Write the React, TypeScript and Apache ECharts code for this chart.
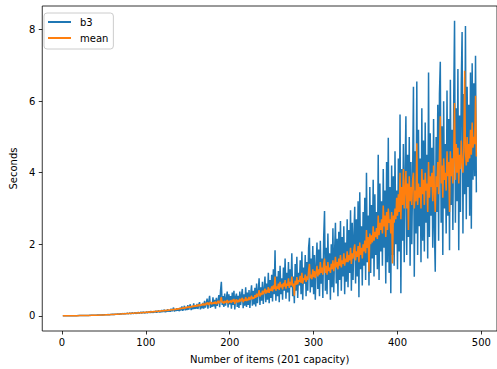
import React, { useEffect, useRef } from "react";
import * as echarts from "echarts";

// runs cover items 1..494, one run per item count
const FIRST_ITEM = 1;
const ITEM_STEP = 1;

const xTicks = [0, 100, 200, 300, 400, 500];
const yTicks = [0, 2, 4, 6, 8];

// b3 timings (seconds), items 1..494
const b3 = [
  0.000, 0.000, 0.000, 0.001, 0.001, 0.001, 0.001, 0.001, 0.002, 0.002,
  0.002, 0.002, 0.003, 0.003, 0.003, 0.004, 0.004, 0.004, 0.005, 0.005,
  0.005, 0.006, 0.006, 0.007, 0.007, 0.008, 0.008, 0.009, 0.009, 0.010,
  0.011, 0.011, 0.012, 0.013, 0.013, 0.014, 0.015, 0.016, 0.017, 0.018,
  0.018, 0.020, 0.019, 0.022, 0.021, 0.024, 0.023, 0.026, 0.025, 0.028,
  0.027, 0.031, 0.029, 0.033, 0.030, 0.036, 0.032, 0.038, 0.034, 0.041,
  0.036, 0.044, 0.038, 0.047, 0.040, 0.052, 0.042, 0.049, 0.045, 0.058,
  0.047, 0.055, 0.062, 0.050, 0.068, 0.053, 0.060, 0.072, 0.055, 0.066,
  0.078, 0.058, 0.070, 0.085, 0.060, 0.075, 0.092, 0.064, 0.080, 0.068,
  0.098, 0.070, 0.085, 0.105, 0.072, 0.090, 0.110, 0.075, 0.095, 0.080,
  0.115, 0.078, 0.100, 0.122, 0.082, 0.130, 0.090, 0.108, 0.086, 0.125,
  0.095, 0.140, 0.090, 0.118, 0.150, 0.095, 0.128, 0.100, 0.160, 0.105,
  0.135, 0.170, 0.102, 0.145, 0.110, 0.185, 0.120, 0.150, 0.115, 0.200,
  0.125, 0.165, 0.230, 0.120, 0.175, 0.135, 0.210, 0.140, 0.190, 0.130,
  0.225, 0.150, 0.260, 0.140, 0.200, 0.280, 0.150, 0.240, 0.160, 0.300,
  0.170, 0.250, 0.320, 0.160, 0.270, 0.180, 0.350, 0.190, 0.260, 0.200,
  0.330, 0.190, 0.300, 0.380, 0.180, 0.290, 0.210, 0.360, 0.200, 0.420,
  0.230, 0.340, 0.480, 0.200, 0.400, 0.560, 0.220, 0.380, 0.250, 0.520,
  0.260, 0.450, 0.200, 0.500, 0.280, 0.420, 0.580, 0.240, 0.700, 0.950,
  0.300, 0.550, 0.250, 0.620, 0.280, 0.480, 0.680, 0.230, 0.600, 0.320,
  0.550, 0.200, 0.650, 0.300, 0.700, 0.180, 0.520, 0.620, 0.250, 0.560,
  0.220, 0.680, 0.300, 0.580, 0.750, 0.210, 0.600, 0.280, 0.800, 0.250,
  0.650, 0.300, 0.720, 0.220, 0.600, 0.850, 0.280, 0.700, 0.320, 0.780,
  0.260, 0.900, 0.350, 0.680, 1.050, 0.300, 0.800, 0.420, 0.950, 0.330,
  0.750, 1.100, 0.380, 0.900, 0.450, 1.200, 0.350, 1.000, 0.500, 1.150,
  0.400, 1.300, 0.600, 1.830, 0.420, 1.100, 0.550, 1.250, 0.380, 1.400,
  0.600, 1.050, 0.450, 1.350, 0.700, 1.600, 0.480, 1.200, 0.650, 1.500,
  0.400, 1.300, 0.800, 1.750, 0.550, 1.100, 0.350, 1.450, 0.700, 1.650,
  0.500, 1.200, 0.850, 1.550, 0.600, 1.800, 0.450, 1.350, 0.900, 1.700,
  0.550, 1.500, 0.700, 1.900, 2.180, 0.650, 1.600, 0.800, 1.950, 0.600,
  1.700, 0.450, 1.400, 2.050, 0.750, 1.850, 0.550, 2.100, 0.900, 1.600,
  0.500, 2.200, 2.930, 0.700, 1.900, 0.600, 2.300, 1.000, 1.750, 0.450,
  2.000, 0.800, 2.450, 0.650, 1.800, 2.600, 0.900, 2.150, 0.550, 2.350,
  1.000, 2.650, 0.700, 2.200, 1.100, 2.500, 0.600, 2.050, 0.950, 2.700,
  0.800, 2.400, 1.200, 2.950, 0.700, 2.600, 1.000, 2.250, 3.050, 0.900,
  2.700, 1.100, 3.200, 0.520, 3.450, 1.300, 2.500, 0.850, 2.900, 1.400,
  3.300, 1.000, 4.000, 1.500, 2.800, 0.850, 3.600, 1.200, 3.100, 1.600,
  3.800, 1.100, 3.400, 1.700, 2.900, 1.300, 4.500, 1.000, 3.700, 1.800,
  3.200, 1.400, 4.100, 1.900, 3.500, 0.900, 4.300, 1.500, 4.980, 1.200,
  3.600, 0.630, 4.200, 1.700, 3.900, 1.400, 4.600, 2.000, 3.500, 1.300,
  4.400, 1.800, 5.630, 0.630, 4.100, 2.100, 4.800, 1.500, 3.900, 5.580,
  1.700, 4.500, 2.200, 5.000, 1.400, 4.300, 2.000, 3.800, 6.400, 1.090,
  4.600, 2.300, 6.550, 1.700, 5.200, 2.500, 4.400, 1.500, 5.800, 2.100,
  4.900, 1.800, 5.400, 2.600, 4.500, 1.600, 6.800, 2.200, 5.100, 2.800,
  4.700, 1.900, 5.500, 2.400, 1.230, 5.000, 2.900, 5.900, 2.100, 6.200,
  7.100, 2.600, 5.300, 1.700, 6.000, 3.000, 4.800, 2.300, 6.300, 2.800,
  5.500, 1.830, 6.600, 3.100, 5.200, 2.400, 6.000, 8.250, 2.600, 5.800,
  3.200, 6.900, 1.830, 5.600, 2.900, 6.500, 7.930, 2.300, 6.200, 3.400,
  8.100, 2.700, 6.400, 3.600, 5.900, 2.800, 6.800, 2.430, 7.060, 3.800,
  6.500, 3.900, 7.270, 3.450,
];

// mean timings (seconds), items 1..494
const mean = [
  0.000, 0.000, 0.000, 0.000, 0.001, 0.001, 0.001, 0.001, 0.001, 0.002,
  0.002, 0.002, 0.002, 0.003, 0.003, 0.003, 0.003, 0.004, 0.004, 0.004,
  0.005, 0.005, 0.005, 0.006, 0.006, 0.007, 0.007, 0.008, 0.008, 0.009,
  0.009, 0.010, 0.010, 0.011, 0.012, 0.012, 0.013, 0.014, 0.014, 0.015,
  0.016, 0.017, 0.017, 0.018, 0.019, 0.020, 0.021, 0.022, 0.023, 0.024,
  0.025, 0.026, 0.027, 0.028, 0.029, 0.031, 0.032, 0.033, 0.034, 0.036,
  0.037, 0.038, 0.040, 0.041, 0.043, 0.044, 0.046, 0.047, 0.049, 0.051,
  0.052, 0.054, 0.056, 0.055, 0.059, 0.058, 0.062, 0.061, 0.065, 0.064,
  0.068, 0.066, 0.071, 0.070, 0.074, 0.072, 0.078, 0.075, 0.082, 0.078,
  0.085, 0.081, 0.088, 0.084, 0.092, 0.087, 0.096, 0.090, 0.100, 0.093,
  0.104, 0.097, 0.108, 0.100, 0.112, 0.104, 0.116, 0.108, 0.120, 0.112,
  0.125, 0.116, 0.130, 0.120, 0.128, 0.135, 0.124, 0.140, 0.130, 0.145,
  0.135, 0.150, 0.140, 0.156, 0.145, 0.162, 0.150, 0.168, 0.155, 0.175,
  0.160, 0.182, 0.166, 0.190, 0.172, 0.198, 0.178, 0.205, 0.185, 0.212,
  0.192, 0.220, 0.198, 0.228, 0.205, 0.236, 0.212, 0.245, 0.220, 0.254,
  0.228, 0.262, 0.235, 0.270, 0.240, 0.280, 0.250, 0.290, 0.258, 0.300,
  0.265, 0.310, 0.272, 0.320, 0.280, 0.300, 0.330, 0.290, 0.345, 0.300,
  0.310, 0.360, 0.320, 0.375, 0.300, 0.350, 0.390, 0.320, 0.370, 0.330,
  0.380, 0.340, 0.400, 0.330, 0.360, 0.420, 0.350, 0.380, 0.440, 0.520,
  0.360, 0.400, 0.340, 0.420, 0.370, 0.390, 0.440, 0.350, 0.410, 0.380,
  0.430, 0.360, 0.450, 0.390, 0.470, 0.330, 0.420, 0.460, 0.370, 0.440,
  0.380, 0.480, 0.400, 0.450, 0.500, 0.380, 0.460, 0.420, 0.520, 0.410,
  0.480, 0.430, 0.530, 0.440, 0.500, 0.560, 0.460, 0.520, 0.480, 0.580,
  0.500, 0.620, 0.530, 0.600, 0.720, 0.540, 0.640, 0.580, 0.700, 0.600,
  0.680, 0.760, 0.620, 0.720, 0.650, 0.800, 0.640, 0.760, 0.700, 0.820,
  0.680, 0.850, 0.740, 1.100, 0.700, 0.820, 0.760, 0.900, 0.720, 0.950,
  0.800, 0.880, 0.740, 0.920, 0.820, 1.000, 0.760, 0.900, 0.840, 1.050,
  0.780, 0.950, 0.850, 1.100, 0.820, 0.900, 0.560, 0.980, 0.860, 1.080,
  0.880, 1.000, 0.950, 1.120, 0.920, 1.200, 0.900, 1.050, 1.000, 1.150,
  0.950, 1.100, 1.000, 1.250, 1.450, 1.050, 1.150, 1.020, 1.300, 1.080,
  1.250, 1.050, 1.200, 1.400, 1.100, 1.300, 1.150, 1.500, 1.200, 1.350,
  1.150, 1.450, 1.600, 1.200, 1.400, 1.150, 1.500, 1.250, 1.350, 1.200,
  1.450, 1.300, 1.550, 1.250, 1.400, 1.650, 1.350, 1.500, 1.300, 1.600,
  1.400, 1.700, 1.350, 1.550, 1.450, 1.750, 1.400, 1.600, 1.500, 1.800,
  1.500, 1.700, 1.550, 1.900, 1.450, 1.750, 1.600, 1.850, 2.000, 1.550,
  1.800, 1.650, 1.950, 1.500, 2.050, 1.700, 1.900, 1.600, 2.000, 1.800,
  2.100, 1.750, 2.400, 1.900, 2.200, 1.230, 2.300, 2.000, 2.250, 2.050,
  2.500, 2.100, 2.350, 2.200, 2.450, 2.150, 2.800, 2.250, 2.600, 2.400,
  2.700, 2.300, 3.080, 2.500, 2.800, 2.200, 2.900, 2.400, 3.000, 2.600,
  2.700, 2.300, 2.900, 1.460, 2.800, 2.600, 3.000, 2.700, 3.300, 2.800,
  3.400, 2.900, 4.000, 2.700, 3.600, 3.100, 4.100, 3.000, 3.500, 4.050,
  3.000, 3.700, 2.400, 3.900, 3.200, 3.600, 3.100, 3.800, 4.000, 3.000,
  3.500, 3.200, 4.820, 3.100, 3.700, 3.300, 3.600, 3.000, 4.100, 3.400,
  3.800, 3.100, 4.000, 3.500, 3.700, 2.900, 4.300, 3.300, 3.900, 3.600,
  4.000, 3.200, 4.200, 3.500, 2.900, 3.900, 3.600, 4.300, 3.400, 4.500,
  5.580, 3.700, 4.200, 3.300, 4.400, 3.800, 4.000, 3.500, 4.600, 3.900,
  4.300, 2.900, 4.600, 3.900, 4.400, 3.700, 4.500, 5.950, 3.800, 4.800,
  4.000, 4.700, 3.700, 4.500, 4.100, 4.900, 4.300, 4.000, 4.600, 6.850,
  4.600, 4.200, 5.000, 4.300, 4.800, 4.400, 5.200, 4.500, 5.400, 4.700,
  5.000, 4.800, 6.150, 4.450,
];

const FONT = "DejaVu Sans";

function toPairs(values: number[]): [number, number][] {
  return values.map((v, i) => [FIRST_ITEM + i * ITEM_STEP, v]);
}

export default function App() {
  const ref = useRef<HTMLDivElement>(null);

  useEffect(() => {
    document.body.style.margin = "0";
    if (!ref.current) return;
    const chart = echarts.init(ref.current, undefined, { renderer: "svg" });
    chart.setOption({
      animation: false,
      backgroundColor: "#ffffff",
      textStyle: { fontFamily: FONT },
      grid: {
        left: 40,
        top: 6,
        width: 457,
        height: 327,
        show: true,
        borderColor: "#000000",
        borderWidth: 0.8,
        backgroundColor: "transparent",
      },
      legend: {
        orient: "vertical",
        left: 44,
        top: 13,
        padding: [4, 5, 6, 4],
        itemGap: 6,
        itemWidth: 23,
        itemHeight: 2,
        icon: "rect",
        backgroundColor: "rgba(255,255,255,0.8)",
        borderColor: "#cccccc",
        borderWidth: 1,
        borderRadius: 3,
        textStyle: {
          fontFamily: FONT,
          fontSize: 10,
          color: "#000000",
          padding: [0, 0, 0, 4],
        },
        data: ["b3", "mean"],
      },
      xAxis: {
        type: "value",
        min: -23.5,
        max: 518.6,
        name: "Number of items (201 capacity)",
        nameLocation: "middle",
        nameGap: 23,
        nameTextStyle: { fontFamily: FONT, fontSize: 10, color: "#000000" },
        splitLine: { show: false },
        axisLine: { show: false, onZero: false },
        axisTick: {
          show: true,
          length: 3.5,
          lineStyle: { color: "#000000", width: 0.8 },
          customValues: xTicks,
        },
        axisLabel: {
          fontFamily: FONT,
          fontSize: 10,
          color: "#000000",
          margin: 6,
          customValues: xTicks,
        },
      },
      yAxis: {
        type: "value",
        min: -0.425,
        max: 8.66,
        name: "Seconds",
        nameLocation: "middle",
        nameGap: 22,
        nameTextStyle: { fontFamily: FONT, fontSize: 10, color: "#000000" },
        splitLine: { show: false },
        axisLine: { show: false, onZero: false },
        axisTick: {
          show: true,
          length: 3.5,
          lineStyle: { color: "#000000", width: 0.8 },
          customValues: yTicks,
        },
        axisLabel: {
          fontFamily: FONT,
          fontSize: 10,
          color: "#000000",
          margin: 7,
          customValues: yTicks,
        },
      },
      series: [
        {
          name: "b3",
          type: "line",
          data: toPairs(b3),
          showSymbol: false,
          symbol: "none",
          lineStyle: { color: "#1f77b4", width: 1.5 },
          itemStyle: { color: "#1f77b4" },
        },
        {
          name: "mean",
          type: "line",
          data: toPairs(mean),
          showSymbol: false,
          symbol: "none",
          lineStyle: { color: "#ff7f0e", width: 1.5 },
          itemStyle: { color: "#ff7f0e" },
        },
      ],
    });
    return () => chart.dispose();
  }, []);

  return (
    <div
      ref={ref}
      style={{ position: "fixed", left: 0, top: 0, width: 497, height: 369 }}
    />
  );
}
